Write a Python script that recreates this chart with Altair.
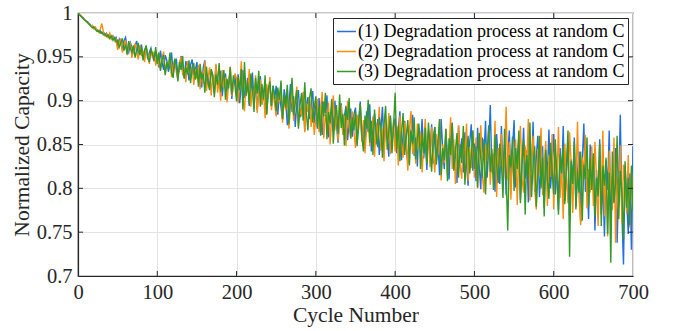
import altair as alt
import pandas as pd

cycles = list(range(0, 701, 2))

series1 = [
    1.000, 0.998, 0.996, 0.995, 0.993, 0.991, 0.990, 0.988, 0.986, 0.985,
    0.984, 0.982, 0.981, 0.979, 0.980, 0.977, 0.978, 0.975, 0.977, 0.973,
    0.975, 0.971, 0.974, 0.969, 0.972,
    0.962, 0.970, 0.965, 0.958, 0.968, 0.972, 0.960, 0.955, 0.966, 0.961,
    0.954, 0.963, 0.968, 0.952, 0.959, 0.964, 0.950, 0.957, 0.962, 0.947,
    0.955, 0.960, 0.951, 0.945, 0.956,
    0.950, 0.938, 0.957, 0.944, 0.935, 0.952, 0.946, 0.933, 0.941, 0.955,
    0.930, 0.942, 0.948, 0.928, 0.937, 0.951, 0.934, 0.926, 0.945, 0.939,
    0.923, 0.941, 0.947, 0.929, 0.935,
    0.944, 0.921, 0.933, 0.915, 0.938, 0.946, 0.918, 0.927, 0.912, 0.935,
    0.929, 0.908, 0.940, 0.922, 0.916, 0.934, 0.905, 0.925, 0.931, 0.910,
    0.919, 0.936, 0.902, 0.921, 0.928,
    0.908, 0.930, 0.897, 0.919, 0.935, 0.903, 0.914, 0.926, 0.894, 0.910,
    0.932, 0.899, 0.921, 0.889, 0.916, 0.928, 0.896, 0.905, 0.923, 0.885,
    0.912, 0.919, 0.893, 0.917, 0.902,
    0.917, 0.884, 0.909, 0.893, 0.878, 0.913, 0.901, 0.872, 0.896, 0.919,
    0.887, 0.905, 0.870, 0.899, 0.912, 0.881, 0.890, 0.907, 0.866, 0.893,
    0.904, 0.879, 0.897, 0.911, 0.874,
    0.895, 0.868, 0.903, 0.880, 0.861, 0.899, 0.886, 0.906, 0.858, 0.879,
    0.893, 0.866, 0.900, 0.873, 0.852, 0.889, 0.897, 0.863, 0.882, 0.894,
    0.855, 0.876, 0.891, 0.859, 0.884,
    0.892, 0.851, 0.877, 0.899, 0.857, 0.873, 0.846, 0.888, 0.864, 0.896,
    0.842, 0.869, 0.885, 0.850, 0.879, 0.838, 0.866, 0.893, 0.845, 0.874,
    0.860, 0.836, 0.883, 0.852, 0.870,
    0.880, 0.840, 0.866, 0.888, 0.832, 0.861, 0.877, 0.845, 0.829, 0.872,
    0.853, 0.884, 0.837, 0.858, 0.825, 0.869, 0.848, 0.879, 0.834, 0.855,
    0.821, 0.866, 0.842, 0.873, 0.828,
    0.870, 0.831, 0.855, 0.815, 0.879, 0.843, 0.822, 0.866, 0.838, 0.810,
    0.860, 0.875, 0.826, 0.848, 0.806, 0.871, 0.835, 0.857, 0.818, 0.864,
    0.829, 0.803, 0.852, 0.873, 0.820,
    0.851, 0.808, 0.869, 0.827, 0.799, 0.858, 0.835, 0.877, 0.812, 0.845,
    0.895, 0.818, 0.840, 0.796, 0.862, 0.829, 0.805, 0.871, 0.823, 0.850,
    0.792, 0.838, 0.866, 0.809, 0.844,
    0.878, 0.801, 0.832, 0.858, 0.787, 0.826, 0.869, 0.811, 0.843, 0.784,
    0.852, 0.819, 0.876, 0.796, 0.835, 0.860, 0.790, 0.822, 0.848, 0.778,
    0.839, 0.815, 0.867, 0.800, 0.828,
    0.862, 0.793, 0.828, 0.775, 0.846, 0.812, 0.871, 0.785, 0.820, 0.853,
    0.768, 0.833, 0.806, 0.858, 0.779, 0.818, 0.842, 0.762, 0.829, 0.874,
    0.796, 0.812, 0.765, 0.850, 0.803,
    0.838, 0.752, 0.821, 0.790, 0.856, 0.770, 0.808, 0.745, 0.832, 0.798,
    0.866, 0.760, 0.815, 0.783, 0.846, 0.738, 0.805, 0.884, 0.772, 0.713,
    0.826, 0.790, 0.748, 0.817, 0.730,
    0.848,
]

series2 = [
    1.000, 0.998, 0.997, 0.994, 0.993, 0.990, 0.989, 0.987, 0.985, 0.986,
    0.982, 0.984, 0.980, 0.978, 0.981, 0.988, 0.979, 0.974, 0.976, 0.972,
    0.977, 0.970, 0.973, 0.968, 0.970,
    0.958, 0.966, 0.971, 0.955, 0.962, 0.969, 0.952, 0.961, 0.966, 0.949,
    0.958, 0.965, 0.955, 0.947, 0.963, 0.951, 0.957, 0.944, 0.960, 0.953,
    0.942, 0.958, 0.949, 0.956, 0.940,
    0.953, 0.941, 0.936, 0.949, 0.956, 0.931, 0.944, 0.938, 0.952, 0.927,
    0.940, 0.947, 0.933, 0.924, 0.943, 0.950, 0.929, 0.937, 0.921, 0.945,
    0.934, 0.926, 0.940, 0.918, 0.936,
    0.925, 0.941, 0.913, 0.933, 0.920, 0.945, 0.911, 0.926, 0.938, 0.906,
    0.930, 0.917, 0.942, 0.909, 0.924, 0.900, 0.935, 0.914, 0.927, 0.898,
    0.920, 0.939, 0.905, 0.916, 0.931,
    0.925, 0.897, 0.918, 0.945, 0.905, 0.888, 0.922, 0.910, 0.936, 0.893,
    0.915, 0.902, 0.929, 0.886, 0.908, 0.924, 0.895, 0.912, 0.880, 0.919,
    0.903, 0.927, 0.889, 0.910, 0.896,
    0.882, 0.912, 0.897, 0.920, 0.875, 0.903, 0.889, 0.914, 0.868, 0.895,
    0.908, 0.877, 0.900, 0.916, 0.871, 0.892, 0.882, 0.910, 0.864, 0.898,
    0.887, 0.905, 0.870, 0.893, 0.861,
    0.880, 0.902, 0.864, 0.891, 0.910, 0.857, 0.885, 0.872, 0.898, 0.850,
    0.881, 0.906, 0.866, 0.889, 0.854, 0.876, 0.895, 0.861, 0.883, 0.848,
    0.900, 0.870, 0.857, 0.888, 0.865,
    0.846, 0.884, 0.867, 0.896, 0.853, 0.878, 0.840, 0.871, 0.890, 0.848,
    0.863, 0.882, 0.836, 0.875, 0.858, 0.893, 0.843, 0.868, 0.831, 0.880,
    0.856, 0.886, 0.839, 0.862, 0.877,
    0.842, 0.870, 0.826, 0.883, 0.852, 0.835, 0.876, 0.859, 0.820, 0.868,
    0.888, 0.839, 0.855, 0.828, 0.874, 0.845, 0.865, 0.818, 0.850, 0.879,
    0.833, 0.862, 0.824, 0.870, 0.841,
    0.818, 0.862, 0.838, 0.877, 0.809, 0.850, 0.829, 0.868, 0.814, 0.845,
    0.881, 0.822, 0.856, 0.805, 0.840, 0.872, 0.826, 0.811, 0.859, 0.836,
    0.874, 0.808, 0.847, 0.823, 0.866,
    0.812, 0.858, 0.800, 0.843, 0.872, 0.816, 0.795, 0.850, 0.831, 0.866,
    0.804, 0.839, 0.818, 0.877, 0.790, 0.846, 0.825, 0.862, 0.798, 0.835,
    0.893, 0.810, 0.853, 0.787, 0.841,
    0.805, 0.856, 0.781, 0.840, 0.871, 0.812, 0.795, 0.848, 0.826, 0.879,
    0.786, 0.833, 0.860, 0.801, 0.776, 0.845, 0.816, 0.869, 0.792, 0.829,
    0.854, 0.780, 0.838, 0.813, 0.862,
    0.776, 0.842, 0.808, 0.870, 0.789, 0.826, 0.765, 0.851, 0.813, 0.783,
    0.864, 0.829, 0.772, 0.840, 0.803, 0.876, 0.790, 0.758, 0.835, 0.818,
    0.861, 0.777, 0.822, 0.795, 0.848,
    0.780, 0.853, 0.812, 0.757, 0.834, 0.795, 0.866, 0.768, 0.820, 0.745,
    0.843, 0.801, 0.775, 0.858, 0.738, 0.812, 0.786, 0.849, 0.760, 0.827,
    0.802, 0.771, 0.838, 0.755, 0.818,
    0.795,
]

series3 = [
    1.000, 0.998, 0.996, 0.994, 0.992, 0.991, 0.989, 0.987, 0.985, 0.983,
    0.984, 0.981, 0.979, 0.980, 0.977, 0.978, 0.975, 0.976, 0.973, 0.975,
    0.971, 0.974, 0.969, 0.972, 0.967,
    0.969, 0.961, 0.966, 0.971, 0.957, 0.964, 0.953, 0.968, 0.960, 0.955,
    0.963, 0.949, 0.958, 0.966, 0.952, 0.961, 0.946, 0.957, 0.963, 0.950,
    0.944, 0.959, 0.953, 0.947, 0.961,
    0.942, 0.955, 0.934, 0.947, 0.952, 0.929, 0.944, 0.937, 0.955, 0.932,
    0.926, 0.948, 0.940, 0.922, 0.944, 0.935, 0.951, 0.925, 0.938, 0.930,
    0.946, 0.920, 0.937, 0.943, 0.924,
    0.937, 0.916, 0.942, 0.924, 0.931, 0.909, 0.939, 0.920, 0.913, 0.936,
    0.927, 0.904, 0.930, 0.918, 0.943, 0.910, 0.922, 0.935, 0.901, 0.925,
    0.914, 0.938, 0.907, 0.929, 0.917,
    0.899, 0.927, 0.912, 0.936, 0.890, 0.944, 0.905, 0.921, 0.896, 0.931,
    0.915, 0.887, 0.926, 0.908, 0.934, 0.893, 0.919, 0.901, 0.929, 0.884,
    0.913, 0.922, 0.894, 0.917, 0.906,
    0.888, 0.915, 0.901, 0.923, 0.879, 0.907, 0.892, 0.918, 0.873, 0.904,
    0.926, 0.883, 0.898, 0.912, 0.868, 0.895, 0.909, 0.877, 0.921, 0.886,
    0.866, 0.903, 0.914, 0.875, 0.892,
    0.905, 0.870, 0.893, 0.860, 0.899, 0.882, 0.909, 0.856, 0.887, 0.874,
    0.902, 0.851, 0.880, 0.895, 0.862, 0.907, 0.869, 0.885, 0.849, 0.892,
    0.878, 0.903, 0.857, 0.881, 0.866,
    0.888, 0.848, 0.875, 0.896, 0.860, 0.842, 0.883, 0.868, 0.901, 0.852,
    0.877, 0.838, 0.890, 0.862, 0.847, 0.881, 0.870, 0.835, 0.873, 0.894,
    0.844, 0.866, 0.882, 0.840, 0.871,
    0.909, 0.845, 0.872, 0.831, 0.863, 0.886, 0.838, 0.859, 0.878, 0.826,
    0.866, 0.850, 0.881, 0.833, 0.856, 0.874, 0.822, 0.862, 0.840, 0.869,
    0.828, 0.875, 0.848, 0.819, 0.858,
    0.870, 0.827, 0.853, 0.879, 0.815, 0.846, 0.832, 0.868, 0.808, 0.857,
    0.838, 0.874, 0.820, 0.843, 0.863, 0.812, 0.850, 0.829, 0.871, 0.804,
    0.841, 0.860, 0.817, 0.835, 0.866,
    0.822, 0.848, 0.801, 0.863, 0.834, 0.812, 0.856, 0.793, 0.840, 0.872,
    0.819, 0.845, 0.798, 0.861, 0.827, 0.806, 0.851, 0.830, 0.789, 0.868,
    0.815, 0.752, 0.838, 0.824, 0.859,
    0.797, 0.846, 0.822, 0.866, 0.783, 0.830, 0.855, 0.770, 0.838, 0.812,
    0.875, 0.790, 0.826, 0.848, 0.779, 0.816, 0.860, 0.800, 0.835, 0.768,
    0.844, 0.811, 0.788, 0.852, 0.820,
    0.793, 0.856, 0.810, 0.770, 0.839, 0.817, 0.848, 0.782, 0.825, 0.866,
    0.722, 0.831, 0.805, 0.853, 0.776, 0.819, 0.795, 0.842, 0.763, 0.827,
    0.810, 0.858, 0.780, 0.834, 0.798,
    0.840, 0.768, 0.812, 0.791, 0.851, 0.757, 0.826, 0.803, 0.835, 0.748,
    0.818, 0.715, 0.842, 0.784, 0.806, 0.860, 0.765, 0.820, 0.795, 0.742,
    0.831, 0.778, 0.812, 0.758, 0.826,
    0.775,
]

names = [
    "(1) Degradation process at random C",
    "(2) Degradation process at random C",
    "(3) Degradation process at random C",
]
colors = ["#1f6fe6", "#ff8c0a", "#349a26"]

x_ticks = [0, 100, 200, 300, 400, 500, 600, 700]
y_ticks = [0.7, 0.75, 0.8, 0.85, 0.9, 0.95, 1.0]

rows = []
for k, (name, vals) in enumerate(zip(names, [series1, series2, series3])):
    for c, v in zip(cycles, vals):
        rows.append({"cycle": c, "value": v, "series": name, "order": k})
df = pd.DataFrame(rows)

W, H = 555, 263
FONT = "Liberation Serif"

xscale = alt.Scale(domain=[0, 700], nice=False, zero=False)
yscale = alt.Scale(domain=[0.7, 1.0], nice=False, zero=False)

lines = alt.Chart(df).mark_line(strokeWidth=1.4, clip=True).encode(
    x=alt.X("cycle:Q", scale=xscale,
            axis=alt.Axis(values=x_ticks, title="Cycle Number", format="d")),
    y=alt.Y("value:Q", scale=yscale,
            axis=alt.Axis(values=y_ticks, title="Normalized Capacity", format="~g")),
    color=alt.Color("series:N", scale=alt.Scale(domain=names, range=colors),
                    legend=alt.Legend(title=None, orient="none", legendX=255, legendY=5)),
    order=alt.Order("order:Q"),
)

xt = pd.DataFrame({"t": x_ticks[1:-1]})
yt = pd.DataFrame({"t": y_ticks[1:-1]})

tick_bottom = alt.Chart(xt).mark_rule(color="#262626", strokeWidth=1).encode(
    x=alt.X("t:Q", scale=xscale), y=alt.value(H), y2=alt.value(H - 5))
tick_top = alt.Chart(xt).mark_rule(color="#262626", strokeWidth=1).encode(
    x=alt.X("t:Q", scale=xscale), y=alt.value(0), y2=alt.value(5))
tick_left = alt.Chart(yt).mark_rule(color="#262626", strokeWidth=1).encode(
    y=alt.Y("t:Q", scale=yscale), x=alt.value(0), x2=alt.value(5))
tick_right = alt.Chart(yt).mark_rule(color="#262626", strokeWidth=1).encode(
    y=alt.Y("t:Q", scale=yscale), x=alt.value(W), x2=alt.value(W - 5))

chart = alt.layer(lines, tick_bottom, tick_top, tick_left, tick_right).properties(
    width=W, height=H,
    autosize=alt.AutoSizeParams(type="none"),
    padding={"left": 78, "top": 13, "right": 40, "bottom": 55},
).configure(
    font=FONT
).configure_view(
    stroke="#262626", strokeWidth=1.2
).configure_axis(
    domainColor="#262626", domainWidth=1.2,
    gridColor="#e3e3e3", gridWidth=1,
    tickSize=0,
    labelFont=FONT, labelFontSize=20.5, labelColor="#262626",
    titleFont=FONT, titleFontSize=21.5, titleColor="#262626", titleFontWeight="normal",
).configure_axisX(
    labelPadding=6, titlePadding=2, labelFlush=False,
).configure_axisY(
    labelPadding=6, titlePadding=3,
).configure_legend(
    labelFont=FONT, labelFontSize=18, labelColor="#000000", labelLimit=400,
    symbolType="stroke", symbolSize=361, symbolStrokeWidth=1.5,
    strokeColor="#262626", fillColor="white", padding=3, rowPadding=0,
    cornerRadius=0, labelOffset=1,
)

chart.save("out.html", embed_options={"renderer": "svg", "actions": False})
